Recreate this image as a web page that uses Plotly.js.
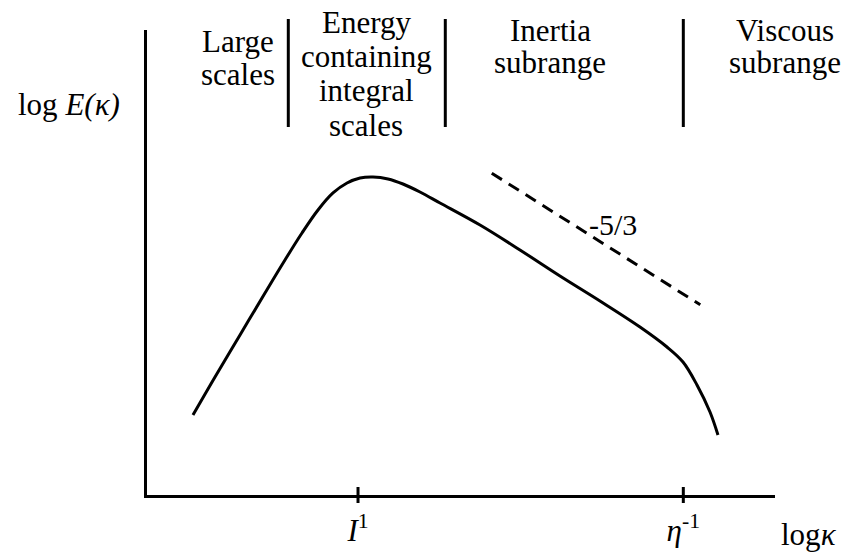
<!DOCTYPE html>
<html>
<head>
<meta charset="utf-8">
<script src="https://cdn.plot.ly/plotly-3.0.1.min.js"></script>
<style>html,body{margin:0;padding:0;background:#fff;}#chart{width:842px;height:552px;}</style>
</head>
<body>
<div id="chart"></div>
<script>
// Schematic energy spectrum (arbitrary log units)
const logKappa = [0.732, 1.083, 1.481, 1.879, 2.197, 2.468, 2.723, 2.962, 3.185, 3.392, 3.599, 3.838, 4.076, 4.347, 4.666, 5.303, 5.939, 6.576, 7.213, 7.850, 8.280, 8.535, 8.758, 8.965, 9.092];
const logE     = [1.720, 2.538, 3.441, 4.344, 5.054, 5.634, 6.129, 6.495, 6.710, 6.817, 6.839, 6.796, 6.688, 6.516, 6.280, 5.806, 5.269, 4.710, 4.172, 3.613, 3.183, 2.860, 2.366, 1.785, 1.290];
const slopeX = [5.49, 8.81];
const slopeY = [6.92, 4.09];
const slopeLabel = '-5/3';
const tickPos = [3.36, 8.54];
const tickText = ['<i>I</i><sup>1</sup>', '<i>η</i><sup>-1</sup>'];
const dividerPos = [2.25, 4.75, 8.54];
const regionLines = [
  ['Large', 'scales'],
  ['Energy', 'containing', 'integral', 'scales'],
  ['Inertia', 'subrange'],
  ['Viscous', 'subrange']
];
const yTitle = 'log <i>E(κ)</i>';
const xTitle = 'log<i>κ</i>';

const FONT = '"Liberation Serif", "Times New Roman", Times, serif';
const FS = 31;
const L = 147, R = 775, T = 30, B = 495;
const P = (px, py) => ({x: (px - L) / (R - L), y: (B - py) / (B - T)});

const regionX = [238, 366, 550, 785];
const regionY = [[42, 74], [23, 56, 90, 125], [30, 62], [30, 62]];

const annotations = [];
function addText(text, px, py, size) {
  const p = P(px, py);
  annotations.push({xref: 'paper', yref: 'paper', x: p.x, y: p.y, text: text, showarrow: false,
    xanchor: 'center', yanchor: 'middle', font: {family: FONT, size: size, color: '#000'}});
}
regionLines.forEach((lines, i) => {
  lines.forEach((t, j) => addText(t, regionX[i], regionY[i][j], FS));
});
addText(yTitle, 69, 104, FS);
addText(xTitle, 809, 534, FS);
addText(slopeLabel, 613, 225, 30);

const shapes = [];
dividerPos.forEach(x => {
  shapes.push({type: 'line', xref: 'x', yref: 'paper', x0: x, x1: x,
    y0: P(0, 127).y, y1: P(0, 19).y, line: {color: '#000', width: 3}});
});
tickPos.forEach(x => {
  shapes.push({type: 'line', xref: 'x', yref: 'paper', x0: x, x1: x,
    y0: P(0, 503).y, y1: P(0, 487).y, line: {color: '#000', width: 3}});
});

const traces = [
  {x: logKappa, y: logE, mode: 'lines', line: {color: '#000', width: 3, shape: 'spline', smoothing: 1}, hoverinfo: 'skip'},
  {x: slopeX, y: slopeY, mode: 'lines', line: {color: '#000', width: 3, dash: '12px,8px'}, hoverinfo: 'skip'}
];

const layout = {
  width: 842, height: 552,
  margin: {l: L, r: 842 - R, t: T, b: 552 - B, pad: 0},
  paper_bgcolor: '#fff', plot_bgcolor: '#fff',
  showlegend: false,
  font: {family: FONT, color: '#000'},
  xaxis: {range: [0, 10], showgrid: false, zeroline: false, showline: true, linecolor: '#000', linewidth: 3,
    tickmode: 'array', tickvals: tickPos, ticktext: tickText, ticks: '', ticklabelstandoff: 6,
    tickfont: {family: FONT, size: FS, color: '#000'}, fixedrange: true},
  yaxis: {range: [0, 10], showgrid: false, zeroline: false, showline: true, linecolor: '#000', linewidth: 3,
    showticklabels: false, ticks: '', fixedrange: true},
  annotations: annotations,
  shapes: shapes
};

Plotly.newPlot('chart', traces, layout, {displayModeBar: false, staticPlot: true});
</script>
</body>
</html>
